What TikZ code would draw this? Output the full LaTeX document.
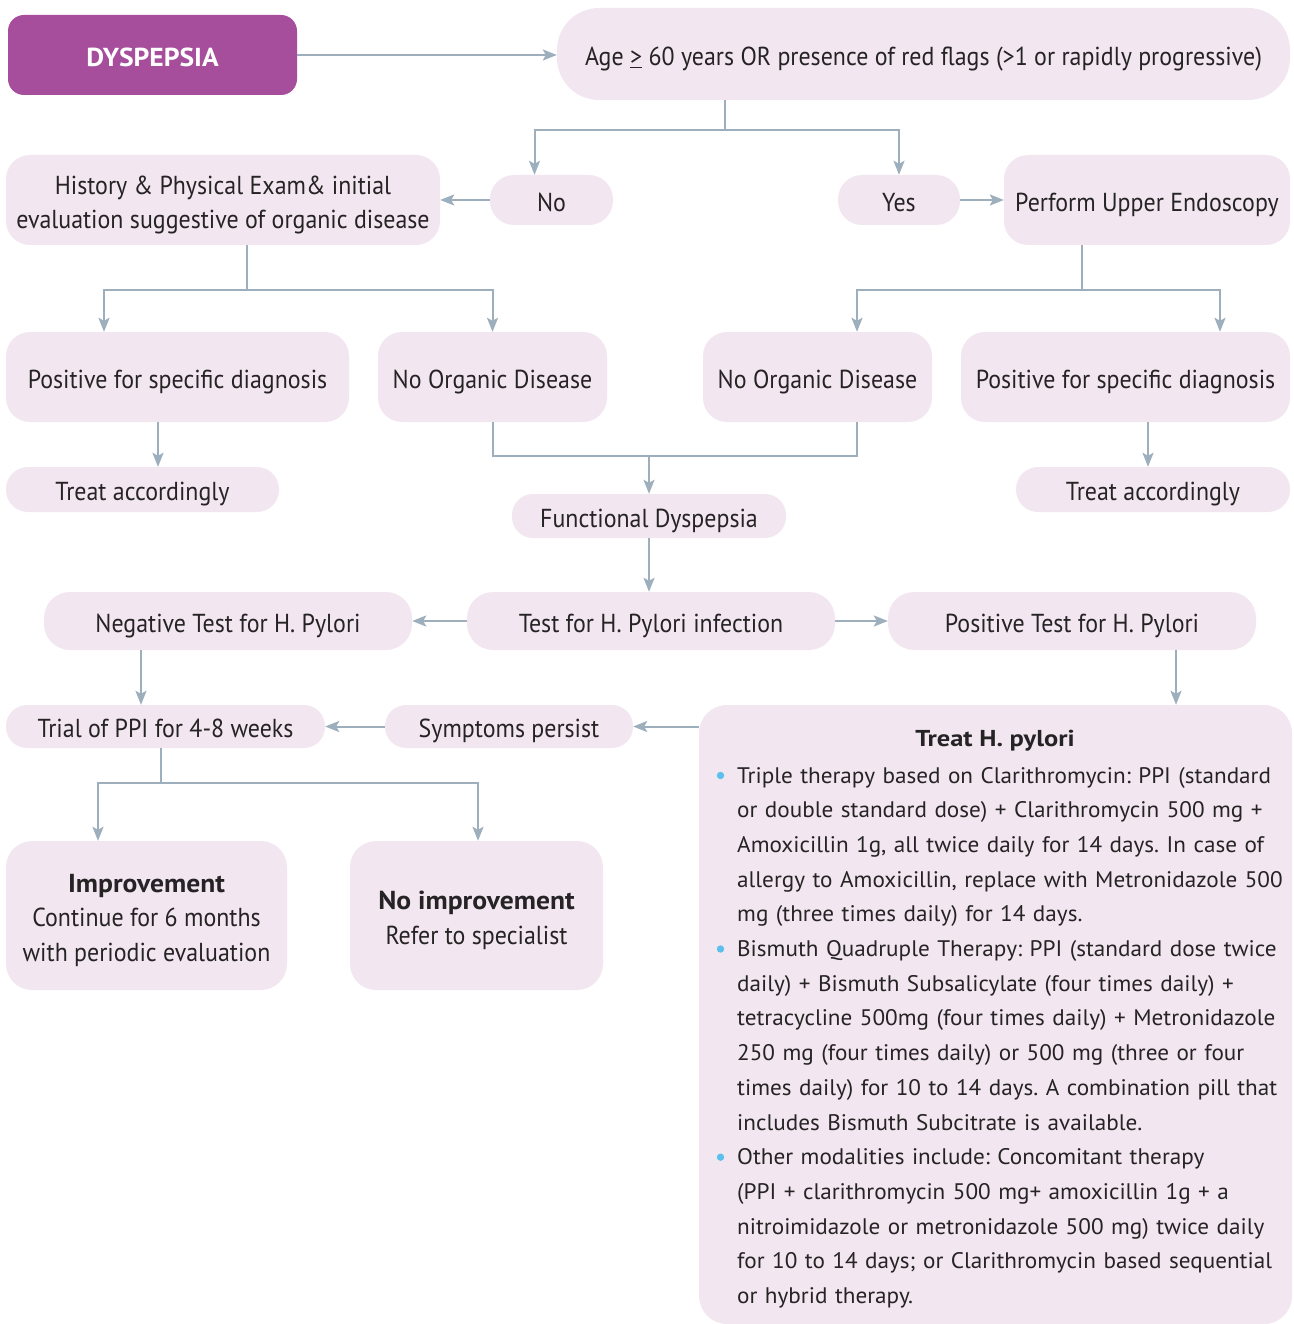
\documentclass[tikz,border=0pt]{standalone}
\usepackage{fontspec}
\setmainfont{PT Sans}
\newfontfamily\boxreg{PT Sans}[FakeStretch=0.92]
\newfontfamily\boxbf{PT Sans}[FakeStretch=1.06]
\newfontfamily\bodyreg{PT Sans}[FakeStretch=1.03]
\newfontfamily\titlebf{PT Sans}[FakeStretch=1.15]
\usetikzlibrary{arrows.meta,calc}

\definecolor{dyspurple}{HTML}{A64D9B}
\definecolor{boxfill}{HTML}{F2E7F1}
\definecolor{linkc}{HTML}{9DAEBD}
\definecolor{txt}{HTML}{262324}
\definecolor{bulletc}{HTML}{5BC0EB}

\newcommand{\boxfont}{\boxreg\fontsize{26}{34.3}\selectfont}
\newcommand{\boxbold}{\boxbf\bfseries}
\newcommand{\bodyfont}{\bodyreg\fontsize{22.5}{34.7}\selectfont}
% box text: strut-based rows, set a little below the geometric centre
\newcommand{\ct}[1]{\raisebox{-4.5pt}[\height][\depth]{\begin{tabular}{@{}c@{}}#1\end{tabular}}}
\newcommand{\hpbullet}{\leavevmode\llap{\tikz[x=1pt,y=1pt,baseline=0pt]\fill[bulletc] (0,7.5) circle[radius=3.7];\hspace{13pt}}}

\begin{document}
\frenchspacing
\begin{tikzpicture}[x=1pt,y=-1pt,
  card/.style={fill=boxfill, rounded corners=#1, inner sep=0pt,
               font=\boxfont, text=txt},
  card/.default=24pt,
  sz/.style 2 args={minimum width=#1, minimum height=#2},
  link/.style={draw=linkc, line width=2pt},
  arr/.style={link, -{Stealth[length=14pt,width=11pt,inset=3pt]}},
]
\useasboundingbox (0,0) rectangle (1293,1324);

% ---- boxes ----
\node[fill=dyspurple, rounded corners=16pt, sz={289pt}{80pt}, inner sep=0pt, text=white,
      font=\boxbf\bfseries\fontsize{26}{34.3}\selectfont] (dys) at (152.5,55) {\ct{DYSPEPSIA}};
\node[card=42pt, sz={733pt}{92pt}] (age) at (923.5,54)
  {\ct{Age \underline{>} 60 years OR presence of red flags (>1 or rapidly progressive)}};

\node[card=24pt, sz={123pt}{50pt}] (no) at (551.5,200) {\ct{No}};
\node[card=24pt, sz={122pt}{50pt}] (yes) at (899,200) {\ct{Yes}};
\node[card, sz={434pt}{90pt}] (hist) at (223,200)
  {\ct{History \& Physical Exam\& initial\\evaluation suggestive of organic disease}};
\node[card, sz={286pt}{90pt}] (endo) at (1147,200) {\ct{Perform Upper Endoscopy}};

\node[card, sz={343pt}{90pt}] (posL) at (177.5,377) {\ct{Positive for specific diagnosis}};
\node[card, sz={229pt}{90pt}] (noorgL) at (492.5,377) {\ct{No Organic Disease}};
\node[card, sz={229pt}{90pt}] (noorgR) at (817.5,377) {\ct{No Organic Disease}};
\node[card, sz={329pt}{90pt}] (posR) at (1125.5,377) {\ct{Positive for specific diagnosis}};

\node[card=22pt, sz={273pt}{45pt}] (treatL) at (142.5,489.5) {\ct{Treat accordingly}};
\node[card=22pt, sz={274pt}{45pt}] (treatR) at (1153,489.5) {\ct{Treat accordingly}};
\node[card=21pt, sz={274pt}{44pt}] (func) at (649,516) {\ct{Functional Dyspepsia}};

\node[card=26pt, sz={368pt}{58pt}] (neg) at (228,621) {\ct{Negative Test for H. Pylori}};
\node[card=26pt, sz={368pt}{58pt}] (test) at (651,621) {\ct{Test for H. Pylori infection}};
\node[card=26pt, sz={368pt}{58pt}] (pos) at (1072,621) {\ct{Positive Test for H. Pylori}};

\node[card=21pt, sz={319pt}{43pt}] (trial) at (165.5,726.5) {\ct{Trial of PPI for 4-8 weeks}};
\node[card=21pt, sz={248pt}{43pt}] (symp) at (509,726.5) {\ct{Symptoms persist}};

\node[card=26pt, sz={281pt}{149pt}] (impr) at (146.5,915.5)
  {\ct{{\boxbold Improvement}\\Continue for 6 months\\with periodic evaluation}};
\node[card=26pt, sz={253pt}{149pt}] (noimpr) at (476.5,915.5)
  {\ct{{\boxbold No improvement}\\Refer to specialist}};

\node[card=28pt, sz={593pt}{619pt}] (hp) at (995.5,1014.5) {};
\node[font=\titlebf\bfseries\fontsize{23}{30}\selectfont, text=txt, inner sep=0pt]
  (hptitle) at (995,741) {Treat H. pylori};
\node[anchor=base west, text width=560pt, align=left, inner sep=0pt,
      font=\bodyfont, text=txt] (hpbody) at (737,783) {%
\hpbullet Triple therapy based on Clarithromycin: PPI (standard\\
or double standard dose) + Clarithromycin 500 mg +\\
Amoxicillin 1g, all twice daily for 14 days. In case of\\
allergy to Amoxicillin, replace with Metronidazole 500\\
mg (three times daily) for 14 days.\\
\hpbullet Bismuth Quadruple Therapy: PPI (standard dose twice\\
daily) + Bismuth Subsalicylate (four times daily) +\\
tetracycline 500mg (four times daily) + Metronidazole\\
250 mg (four times daily) or 500 mg (three or four\\
times daily) for 10 to 14 days. A combination pill that\\
includes Bismuth Subcitrate is available.\\
\hpbullet Other modalities include: Concomitant therapy\\
(PPI + clarithromycin 500 mg+ amoxicillin 1g + a\\
nitroimidazole or metronidazole 500 mg) twice daily\\
for 10 to 14 days; or Clarithromycin based sequential\\
or hybrid therapy.};

% ---- connectors ----
\draw[arr] (dys.east) -- (dys.east -| age.west);

\coordinate (agesplit) at (725,130);
\draw[link] (agesplit |- age.south) -- (agesplit);
\draw[arr] (agesplit) -| ([xshift=-17pt]no.north);
\draw[arr] (agesplit) -| (yes.north);
\draw[arr] (no.west) -- (no.west -| hist.east);
\draw[arr] (yes.east) -- (yes.east -| endo.west);

\coordinate (histsplit) at (247,290);
\draw[link] (histsplit |- hist.south) -- (histsplit);
\draw[arr] (histsplit) -| ([xshift=-73.5pt]posL.north);
\draw[arr] (histsplit) -| (noorgL.north);

\coordinate (endosplit) at (1082,290);
\draw[link] (endosplit |- endo.south) -- (endosplit);
\draw[arr] (endosplit) -| ([xshift=39.5pt]noorgR.north);
\draw[arr] (endosplit) -| ([xshift=94.5pt]posR.north);

\draw[arr] ([xshift=-19.5pt]posL.south) coordinate (pl) -- (pl |- treatL.north);
\draw[arr] ([xshift=22.5pt]posR.south) coordinate (pr) -- (pr |- treatR.north);

\coordinate (merge) at (649,456);
\draw[link] (noorgL.south) |- (merge) -| ([xshift=39.5pt]noorgR.south);
\draw[arr] (merge) -- (func.north);

\draw[arr] (func.south) -- (func.south |- test.north);
\draw[arr] (test.west) -- (neg.east);
\draw[arr] (test.east) -- (pos.west);

\draw[arr] ([xshift=-87pt]neg.south) coordinate (ng) -- (ng |- trial.north);
\draw[arr] ([xshift=104pt]pos.south) coordinate (ps) -- (ps |- hp.north);
\draw[arr] (symp.east -| hp.west) -- (symp.east);
\draw[arr] (symp.west) -- (trial.east);

\coordinate (trialsplit) at (161,783);
\draw[link] (trialsplit |- trial.south) -- (trialsplit);
\draw[arr] (trialsplit) -| ([xshift=-48.5pt]impr.north);
\draw[arr] (trialsplit) -| ([xshift=1.5pt]noimpr.north);
\end{tikzpicture}
\end{document}
